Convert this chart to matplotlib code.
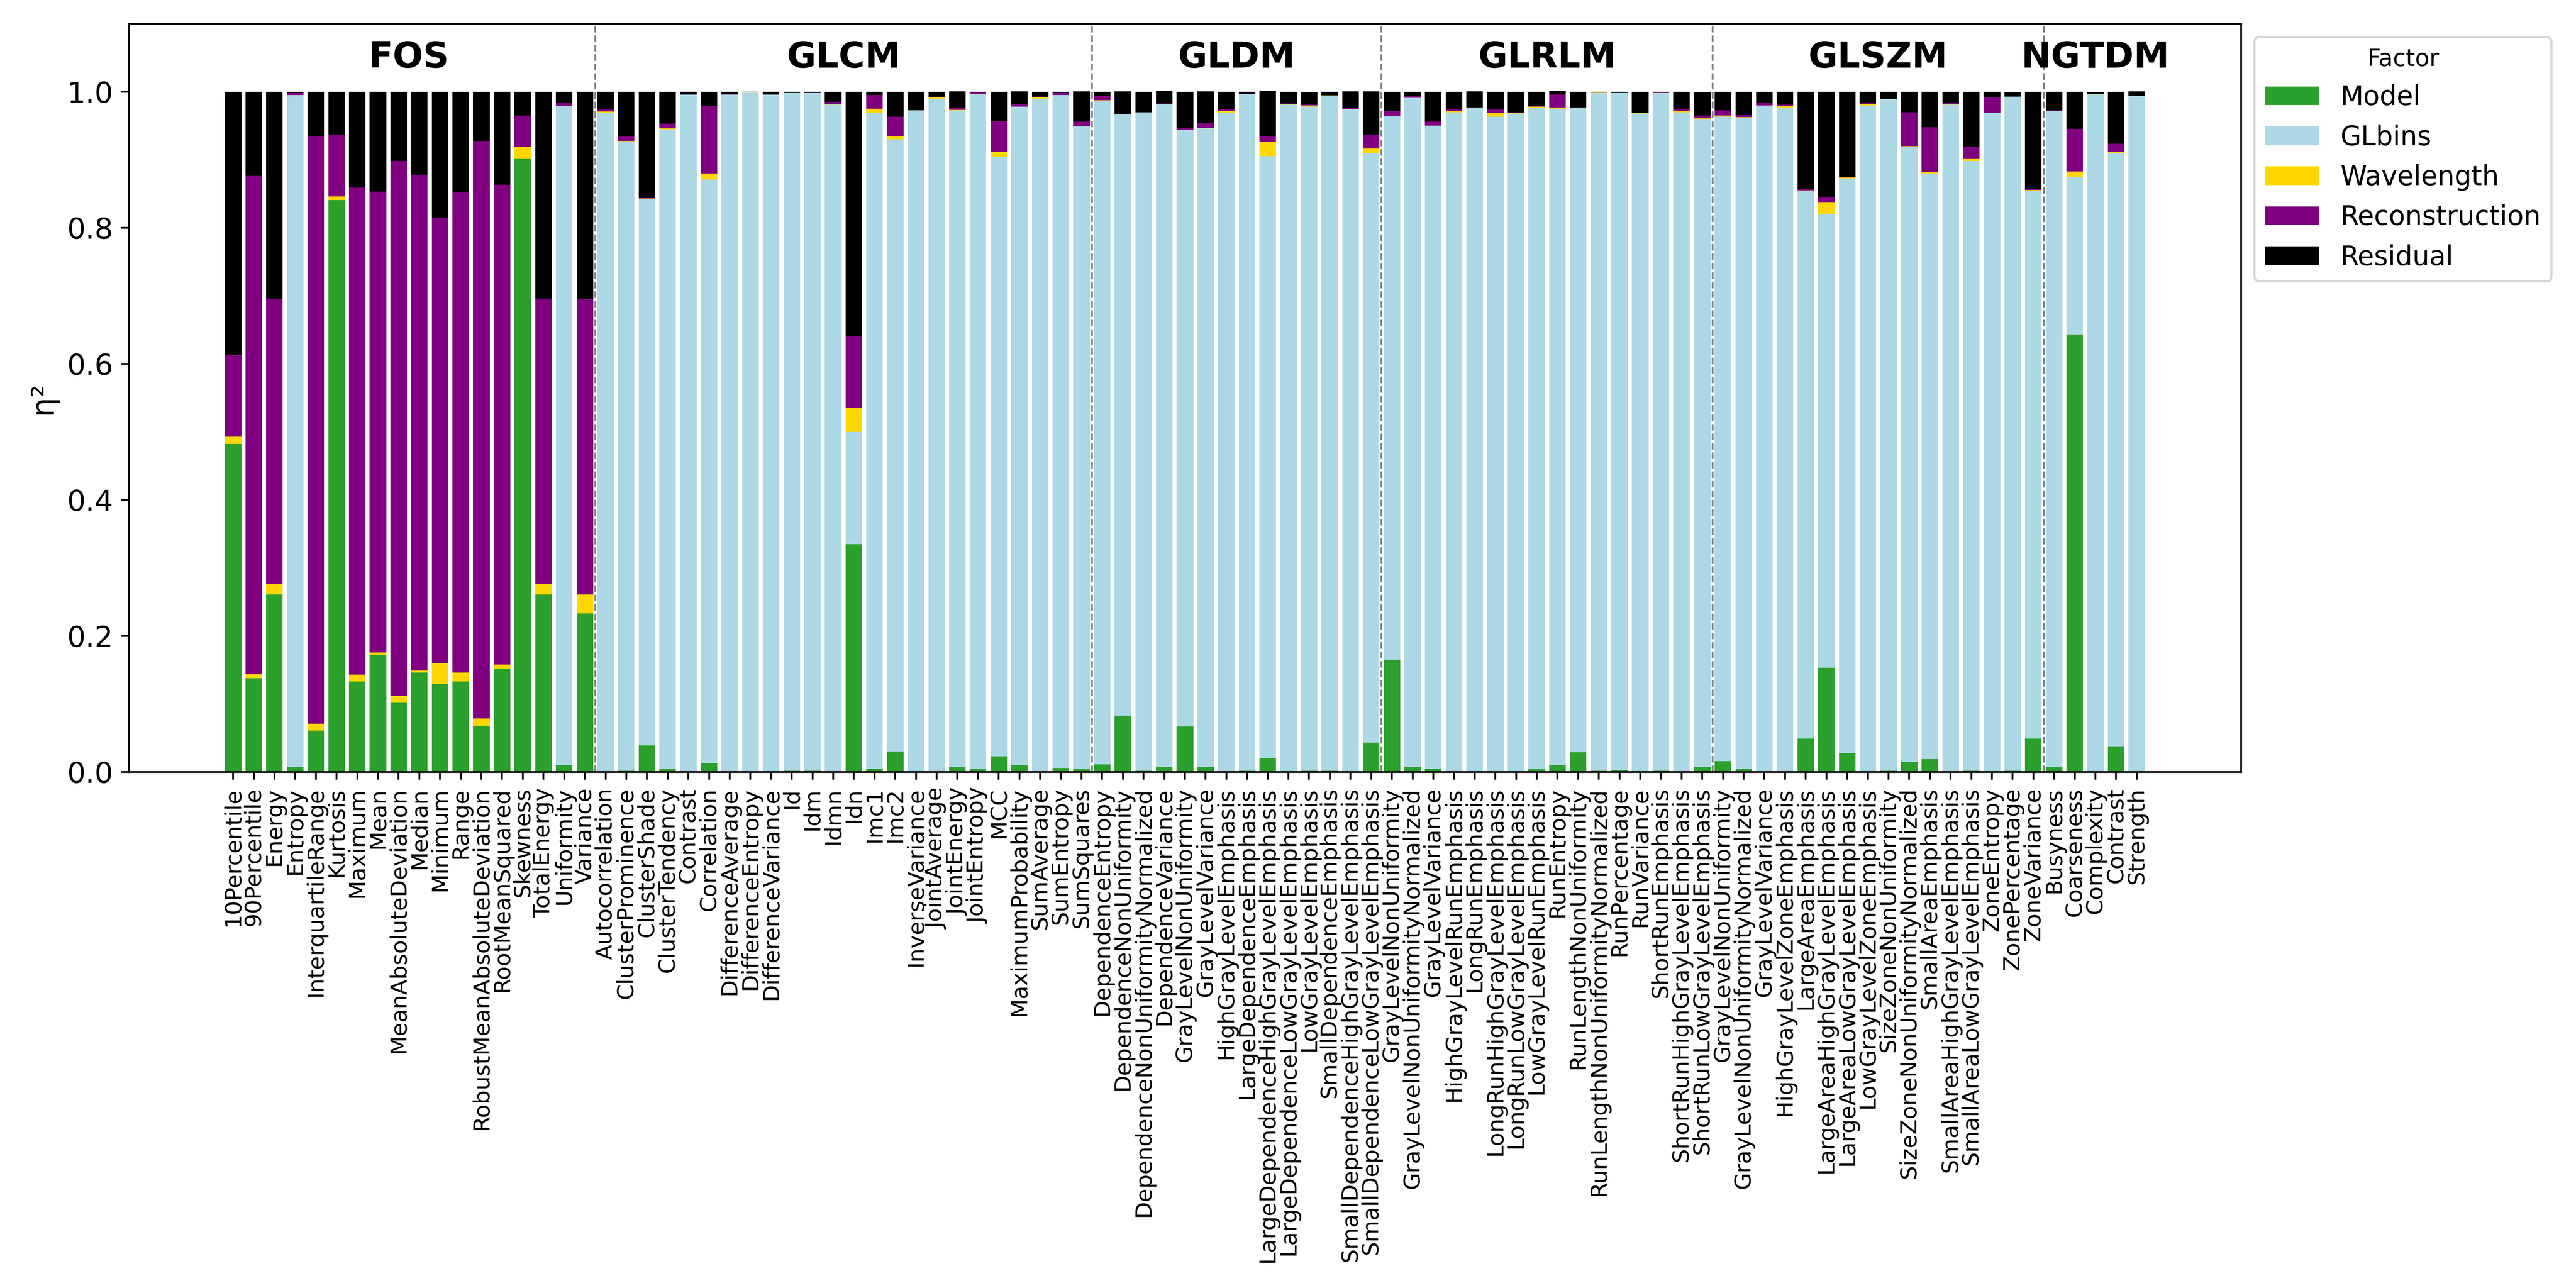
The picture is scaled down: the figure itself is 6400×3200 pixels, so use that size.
import numpy as np
import matplotlib
matplotlib.use("Agg")
import matplotlib.pyplot as plt

# Familias de features (grupo, numero de features)
grupos = ["FOS", "GLCM", "GLDM", "GLRLM", "GLSZM", "NGTDM"]

features_fos = ["10Percentile", "90Percentile", "Energy", "Entropy", "InterquartileRange",
                "Kurtosis", "Maximum", "Mean", "MeanAbsoluteDeviation", "Median", "Minimum",
                "Range", "RobustMeanAbsoluteDeviation", "RootMeanSquared", "Skewness",
                "TotalEnergy", "Uniformity", "Variance"]
features_glcm = ["Autocorrelation", "ClusterProminence", "ClusterShade", "ClusterTendency",
                 "Contrast", "Correlation", "DifferenceAverage", "DifferenceEntropy",
                 "DifferenceVariance", "Id", "Idm", "Idmn", "Idn", "Imc1", "Imc2",
                 "InverseVariance", "JointAverage", "JointEnergy", "JointEntropy", "MCC",
                 "MaximumProbability", "SumAverage", "SumEntropy", "SumSquares"]
features_gldm = ["DependenceEntropy", "DependenceNonUniformity",
                 "DependenceNonUniformityNormalized", "DependenceVariance",
                 "GrayLevelNonUniformity", "GrayLevelVariance", "HighGrayLevelEmphasis",
                 "LargeDependenceEmphasis", "LargeDependenceHighGrayLevelEmphasis",
                 "LargeDependenceLowGrayLevelEmphasis", "LowGrayLevelEmphasis",
                 "SmallDependenceEmphasis", "SmallDependenceHighGrayLevelEmphasis",
                 "SmallDependenceLowGrayLevelEmphasis"]
features_glrlm = ["GrayLevelNonUniformity", "GrayLevelNonUniformityNormalized",
                  "GrayLevelVariance", "HighGrayLevelRunEmphasis", "LongRunEmphasis",
                  "LongRunHighGrayLevelEmphasis", "LongRunLowGrayLevelEmphasis",
                  "LowGrayLevelRunEmphasis", "RunEntropy", "RunLengthNonUniformity",
                  "RunLengthNonUniformityNormalized", "RunPercentage", "RunVariance",
                  "ShortRunEmphasis", "ShortRunHighGrayLevelEmphasis",
                  "ShortRunLowGrayLevelEmphasis"]
features_glszm = ["GrayLevelNonUniformity", "GrayLevelNonUniformityNormalized",
                  "GrayLevelVariance", "HighGrayLevelZoneEmphasis", "LargeAreaEmphasis",
                  "LargeAreaHighGrayLevelEmphasis", "LargeAreaLowGrayLevelEmphasis",
                  "LowGrayLevelZoneEmphasis", "SizeZoneNonUniformity",
                  "SizeZoneNonUniformityNormalized", "SmallAreaEmphasis",
                  "SmallAreaHighGrayLevelEmphasis", "SmallAreaLowGrayLevelEmphasis",
                  "ZoneEntropy", "ZonePercentage", "ZoneVariance"]
features_ngtdm = ["Busyness", "Coarseness", "Complexity", "Contrast", "Strength"]

# eta^2 por factor (mismo orden que las features de arriba)
model = [0.482, 0.138, 0.261, 0.007, 0.061, 0.841, 0.133, 0.172, 0.102, 0.146, 0.129, 0.133,
         0.068, 0.152, 0.901, 0.261, 0.010, 0.233,
         0.000, 0.002, 0.039, 0.004, 0.000, 0.013, 0.000, 0.000, 0.000, 0.002, 0.002, 0.000,
         0.335, 0.005, 0.030, 0.000, 0.000, 0.007, 0.004, 0.023, 0.010, 0.000, 0.006, 0.004,
         0.011, 0.083, 0.002, 0.007, 0.067, 0.007, 0.000, 0.002, 0.020, 0.001, 0.002, 0.002,
         0.000, 0.043,
         0.165, 0.008, 0.005, 0.000, 0.000, 0.000, 0.000, 0.004, 0.010, 0.029, 0.002, 0.003,
         0.000, 0.002, 0.000, 0.008,
         0.016, 0.005, 0.000, 0.000, 0.049, 0.153, 0.028, 0.000, 0.002, 0.015, 0.019, 0.000,
         0.002, 0.001, 0.002, 0.049,
         0.007, 0.643, 0.000, 0.038, 0.000]
glbins = [0.000, 0.000, 0.000, 0.988, 0.000, 0.000, 0.000, 0.000, 0.000, 0.000, 0.000, 0.000,
          0.000, 0.000, 0.000, 0.000, 0.969, 0.000,
          0.969, 0.925, 0.803, 0.941, 0.996, 0.858, 0.996, 0.999, 0.996, 0.996, 0.996, 0.981,
          0.165, 0.964, 0.900, 0.973, 0.990, 0.966, 0.993, 0.881, 0.968, 0.990, 0.989, 0.945,
          0.976, 0.884, 0.968, 0.975, 0.877, 0.939, 0.969, 0.995, 0.885, 0.980, 0.976, 0.992,
          0.974, 0.867,
          0.799, 0.983, 0.945, 0.970, 0.976, 0.963, 0.968, 0.972, 0.965, 0.948, 0.996, 0.995,
          0.968, 0.996, 0.970, 0.951,
          0.947, 0.957, 0.980, 0.977, 0.805, 0.667, 0.845, 0.980, 0.987, 0.904, 0.861, 0.981,
          0.896, 0.968, 0.991, 0.805,
          0.965, 0.232, 0.996, 0.872, 0.994]
wavelength = [0.011, 0.006, 0.016, 0.000, 0.010, 0.005, 0.010, 0.004, 0.010, 0.003, 0.031,
              0.013, 0.011, 0.006, 0.018, 0.016, 0.000, 0.028,
              0.002, 0.001, 0.001, 0.001, 0.000, 0.009, 0.000, 0.0005, 0.000, 0.000, 0.000,
              0.001, 0.035, 0.006, 0.004, 0.000, 0.002, 0.0005, 0.000, 0.008, 0.000, 0.002,
              0.000, 0.0003,
              0.0004, 0.0005, 0.000, 0.000, 0.000, 0.0005, 0.0026, 0.000, 0.021, 0.001, 0.002,
              0.0009, 0.0004, 0.0064,
              0.000, 0.000, 0.0005, 0.002, 0.0006, 0.006, 0.001, 0.002, 0.002, 0.000, 0.0008,
              0.000, 0.0006, 0.000, 0.002, 0.002,
              0.002, 0.0007, 0.000, 0.0017, 0.001, 0.018, 0.0007, 0.002, 0.0005, 0.001, 0.0016,
              0.001, 0.003, 0.000, 0.000, 0.0015,
              0.0004, 0.008, 0.0006, 0.001, 0.000]
reconstruction = [0.120, 0.732, 0.419, 0.003, 0.863, 0.091, 0.716, 0.677, 0.786, 0.729, 0.654,
                  0.706, 0.849, 0.705, 0.046, 0.419, 0.005, 0.434,
                  0.003, 0.006, 0.001, 0.007, 0.000, 0.099, 0.001, 0.000, 0.000, 0.000, 0.000,
                  0.003, 0.105, 0.020, 0.029, 0.000, 0.001, 0.003, 0.002, 0.045, 0.0035, 0.001,
                  0.003, 0.007,
                  0.0066, 0.000, 0.000, 0.001, 0.0035, 0.007, 0.003, 0.000, 0.009, 0.001, 0.001,
                  0.000, 0.002, 0.021,
                  0.0076, 0.0025, 0.0055, 0.003, 0.000, 0.005, 0.001, 0.001, 0.019, 0.000, 0.000,
                  0.000, 0.000, 0.0008, 0.003, 0.0042,
                  0.0078, 0.003, 0.004, 0.0023, 0.002, 0.0075, 0.0008, 0.0014, 0.000, 0.050,
                  0.0664, 0.0014, 0.018, 0.0227, 0.000, 0.0015,
                  0.0004, 0.0625, 0.000, 0.0126, 0.000]
residual = [0.387, 0.124, 0.304, 0.002, 0.066, 0.063, 0.141, 0.147, 0.102, 0.122, 0.186, 0.148,
            0.072, 0.137, 0.035, 0.304, 0.016, 0.305,
            0.026, 0.066, 0.156, 0.047, 0.004, 0.021, 0.003, 0.0005, 0.004, 0.002, 0.002, 0.015,
            0.360, 0.005, 0.037, 0.027, 0.007, 0.024, 0.001, 0.043, 0.019, 0.007, 0.002, 0.044,
            0.006, 0.033, 0.030, 0.018, 0.0525, 0.047, 0.0255, 0.003, 0.066, 0.017, 0.0184,
            0.0051, 0.024, 0.063,
            0.0284, 0.0065, 0.044, 0.025, 0.0237, 0.026, 0.030, 0.021, 0.005, 0.023, 0.0012,
            0.002, 0.0314, 0.0012, 0.025, 0.0343,
            0.0272, 0.0343, 0.016, 0.019, 0.143, 0.1545, 0.1255, 0.0166, 0.0105, 0.030, 0.052,
            0.0166, 0.081, 0.0083, 0.0065, 0.143,
            0.0272, 0.0545, 0.003, 0.0764, 0.0065]

listas = [features_fos, features_glcm, features_gldm, features_glrlm, features_glszm, features_ngtdm]
etiquetas = [f for lista in listas for f in lista]
tamanos = [len(lista) for lista in listas]

factores = ["Model", "GLbins", "Wavelength", "Reconstruction", "Residual"]
colores = ["#2ca02c", "lightblue", "gold", "purple", "black"]
valores = [model, glbins, wavelength, reconstruction, residual]

fig, ax = plt.subplots(figsize=(16, 8))
x = np.arange(len(etiquetas))
base = np.zeros(len(etiquetas))
for nombre, color, serie in zip(factores, colores, valores):
    serie = np.array(serie)
    ax.bar(x, serie, bottom=base, width=0.8, color=color, label=nombre)
    base = base + serie

# separadores y nombres de cada familia
inicio = 0
for i, (grupo, n) in enumerate(zip(grupos, tamanos)):
    fin = inicio + n - 1
    ax.text((inicio + fin) / 2, 1.05, grupo, ha="center", va="center",
            fontsize=16, fontweight="bold")
    if i < len(grupos) - 1:
        ax.axvline(fin + 0.5, color="gray", linestyle="--", linewidth=0.8)
    inicio = fin + 1

ax.set_xticks(x)
ax.set_xticklabels(etiquetas, rotation=90, fontsize=10)
ax.set_ylim(0, 1.1)
ax.set_yticks([0.0, 0.2, 0.4, 0.6, 0.8, 1.0])
ax.tick_params(axis="y", labelsize=13)
ax.set_ylabel("η²", fontsize=14)
ax.legend(title="Factor", bbox_to_anchor=(1, 1), loc="upper left",
          fontsize=12, title_fontsize=10.5)

plt.subplots_adjust(left=0.050, right=0.870, top=0.9816, bottom=0.4006)
plt.savefig("out.png", dpi=400)
